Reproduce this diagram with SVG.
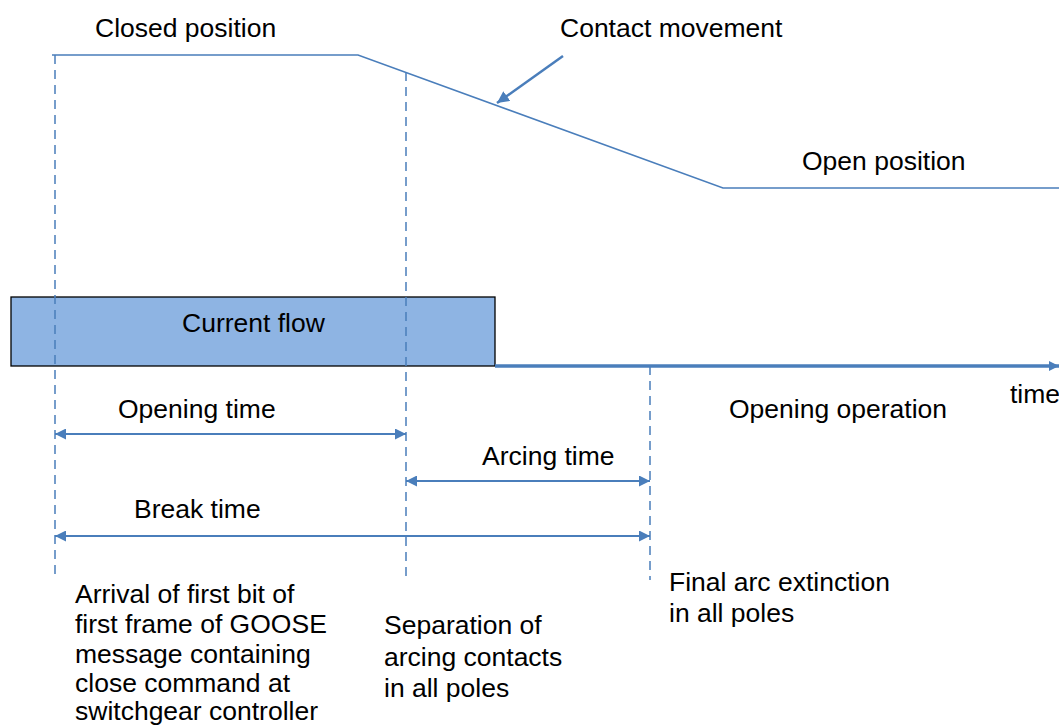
<svg xmlns="http://www.w3.org/2000/svg" width="1059" height="726" viewBox="0 0 1059 726">
  <defs>
    <marker id="ahBig" viewBox="0 0 10 10" refX="10" refY="5" markerWidth="10" markerHeight="10" orient="auto" markerUnits="userSpaceOnUse">
      <path d="M0,0 L10,5 L0,10 z" fill="#4A7EBB"/>
    </marker>
    <marker id="ahPtr" viewBox="0 0 10 10" refX="10" refY="5" markerWidth="12" markerHeight="12" orient="auto" markerUnits="userSpaceOnUse">
      <path d="M0,0 L10,5 L0,10 z" fill="#4A7EBB"/>
    </marker>
    <marker id="ahDim" viewBox="0 0 10 10" refX="10" refY="5" markerWidth="11" markerHeight="11" orient="auto-start-reverse" markerUnits="userSpaceOnUse">
      <path d="M0,0 L10,5 L0,10 z" fill="#4A7EBB"/>
    </marker>
  </defs>
  <style>
    text { font-family: "Liberation Sans", Arial, sans-serif; font-size: 26.5px; fill: #000; }
    .guide { stroke: #4A7EBB; stroke-width: 1.5; stroke-dasharray: 9 6; fill: none; }
    .curve { stroke: #4A7EBB; stroke-width: 1.5; fill: none; }
    .dim { stroke: #4A7EBB; stroke-width: 2.2; fill: none; marker-start: url(#ahDim); marker-end: url(#ahDim); }
  </style>
  <rect width="1059" height="726" fill="#fff"/>

  <!-- current flow bar -->
  <g id="current-flow">
    <rect x="11" y="297" width="484" height="69" fill="#8EB4E3" stroke="#000" stroke-width="1.3"/>
    <text x="182" y="332">Current flow</text>
  </g>

  <g id="connectors">
    <!-- vertical event markers -->
    <line class="guide" x1="55" y1="55" x2="55" y2="576"/>
    <line class="guide" x1="406" y1="72" x2="406" y2="578"/>
    <line class="guide" x1="650" y1="366" x2="650" y2="580"/>
    <!-- contact travel curve -->
    <polyline class="curve" points="52,55 358,55 723,188 1059,188"/>
    <!-- pointer to the curve -->
    <line x1="563" y1="56" x2="497" y2="103" stroke="#4A7EBB" stroke-width="2.5" marker-end="url(#ahPtr)"/>
    <!-- time axis -->
    <line x1="495" y1="366" x2="1059" y2="366" stroke="#4A7EBB" stroke-width="3.5" marker-end="url(#ahBig)"/>
    <!-- interval dimensions -->
    <line class="dim" x1="55" y1="434" x2="406" y2="434"/>
    <line class="dim" x1="406" y1="481" x2="650" y2="481"/>
    <line class="dim" x1="55" y1="536" x2="650" y2="536"/>
  </g>

  <g id="labels">
    <text x="95" y="37">Closed position</text>
    <text x="560" y="37">Contact movement</text>
    <text x="802" y="170">Open position</text>
    <text x="1010" y="403">time</text>
    <text x="118" y="418">Opening time</text>
    <text x="729" y="418">Opening operation</text>
    <text x="482" y="465">Arcing time</text>
    <text x="134" y="518">Break time</text>
  </g>

  <g id="event-goose">
    <text x="75" y="603">Arrival of first bit of</text>
    <text x="75" y="633">first frame of GOOSE</text>
    <text x="75" y="663">message containing</text>
    <text x="75" y="692">close command at</text>
    <text x="75" y="720">switchgear controller</text>
  </g>
  <g id="event-separation">
    <text x="384" y="634">Separation of</text>
    <text x="384" y="666">arcing contacts</text>
    <text x="384" y="697">in all poles</text>
  </g>
  <g id="event-extinction">
    <text x="669" y="591">Final arc extinction</text>
    <text x="669" y="622">in all poles</text>
  </g>
</svg>
